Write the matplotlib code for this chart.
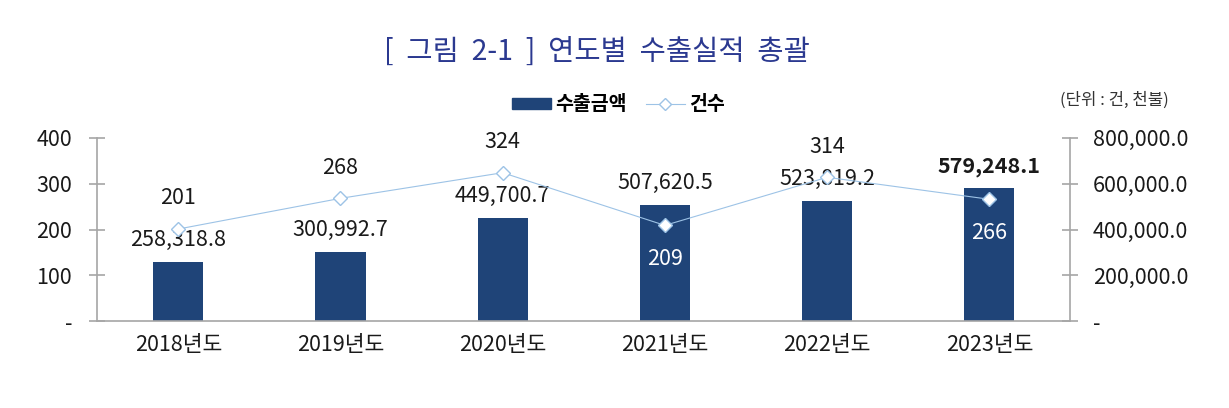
import matplotlib.pyplot as plt
from matplotlib.ticker import FuncFormatter

plt.rcParams['font.family'] = ['Noto Sans CJK KR', 'DejaVu Sans']

years = ['2018년도', '2019년도', '2020년도', '2021년도', '2022년도', '2023년도']
amounts = [258318.8, 300992.7, 449700.7, 507620.5, 523819.2, 579248.1]
counts = [201, 268, 324, 209, 314, 266]
# which count labels sit inside the bar (below the point, white)
count_below = [False, False, False, True, False, True]

bar_color = '#1f4478'
line_color = '#9dc3e6'
grey = '#a6a6a6'
text_color = '#1a1a1a'
fs = 15.5

fig = plt.figure(figsize=(12.29, 4.08), dpi=100)
ax = fig.add_axes([0.079, 0.213, 0.792, 0.449])
ax2 = ax.twinx()

x = list(range(len(years)))
ax2.bar(x, amounts, width=0.31, color=bar_color, zorder=2)
ax.plot(x, counts, color=line_color, linewidth=0.8, marker='D', markersize=7,
        markerfacecolor='white', markeredgecolor=line_color, markeredgewidth=1.0,
        zorder=3)

ax.set_zorder(ax2.get_zorder() + 1)
ax.patch.set_visible(False)

ax.set_xlim(-0.5, 5.5)
ax.set_ylim(0, 400)
ax2.set_ylim(0, 800000)
ax.set_yticks([0, 100, 200, 300, 400])
ax2.set_yticks([0, 200000, 400000, 600000, 800000])
ax.yaxis.set_major_formatter(FuncFormatter(lambda v, p: '-' if v == 0 else f'{v:,.0f}'))
ax2.yaxis.set_major_formatter(FuncFormatter(lambda v, p: '-' if v == 0 else f'{v:,.1f}'))
ax.set_xticks(x)
ax.set_xticklabels(years)

for a in (ax, ax2):
    a.spines['top'].set_visible(False)
    for s in ('left', 'right', 'bottom'):
        a.spines[s].set_color(grey)
        a.spines[s].set_linewidth(1.2)
ax.spines['right'].set_visible(False)
ax2.spines['left'].set_visible(False)
ax2.spines['bottom'].set_visible(False)

ax.tick_params(axis='y', direction='inout', length=12, width=1.2, color=grey,
               labelsize=fs, labelcolor=text_color, pad=12)
ax2.tick_params(axis='y', direction='inout', length=12, width=1.2, color=grey,
                labelsize=fs, labelcolor=text_color, pad=10)
ax.tick_params(axis='x', length=0, labelsize=fs, labelcolor=text_color, pad=9)

for i, (v, c) in enumerate(zip(amounts, counts)):
    ax2.annotate(f'{v:,.1f}', (i, v), xytext=(0, 16), textcoords='offset points',
                 ha='center', va='center', fontsize=fs, color=text_color,
                 fontweight='bold' if i == len(amounts) - 1 else 'normal', zorder=4)
    if count_below[i]:
        ax.annotate(f'{c}', (i, c), xytext=(0, -24), textcoords='offset points',
                    ha='center', va='center', fontsize=fs, color='white', zorder=5)
    else:
        ax.annotate(f'{c}', (i, c), xytext=(0, 22), textcoords='offset points',
                    ha='center', va='center', fontsize=fs, color=text_color, zorder=5)

bar_h = plt.Rectangle((0, 0), 1, 1, color=bar_color)
line_h = plt.Line2D([], [], color=line_color, linewidth=0.8, marker='D', markersize=6,
                    markerfacecolor='white', markeredgecolor=line_color)
fig.legend([bar_h, line_h], ['수출금액', '건수'], loc='center', bbox_to_anchor=(0.503, 0.743),
           ncol=2, frameon=False, handlelength=2.0, handleheight=0.5,
           columnspacing=1.0, handletextpad=0.2, prop={'weight': 'bold', 'size': 14})

fig.text(0.486, 0.872, '[  그림  2-1  ]  연도별  수출실적  총괄', ha='center', va='center',
         fontsize=20.5, color='#2b3990')
fig.text(0.907, 0.755, '(단위 : 건, 천불)', ha='center', va='center', fontsize=12,
         color='#333333')

fig.savefig('out.png', dpi=100)
